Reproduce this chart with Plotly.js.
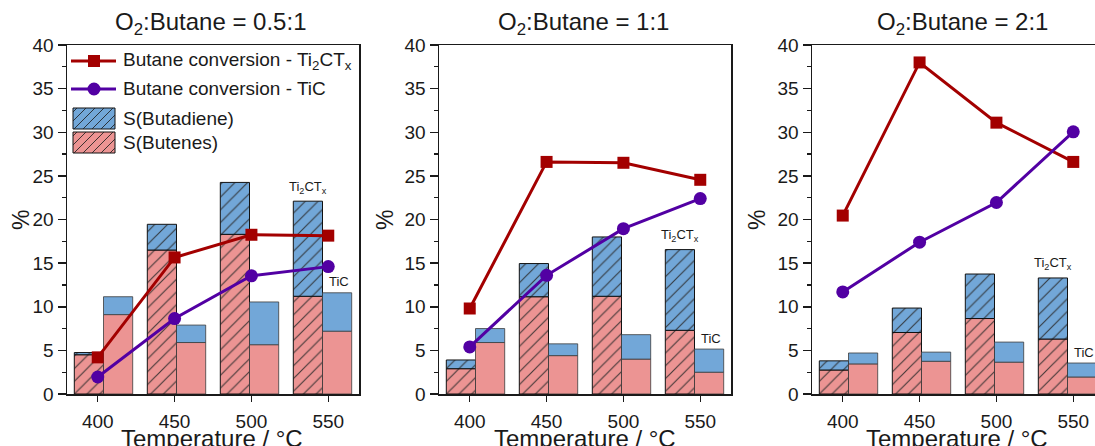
<!DOCTYPE html>
<html>
<head>
<meta charset="utf-8">
<script src="https://cdn.plot.ly/plotly-3.0.1.min.js"></script>
<style>html,body{margin:0;padding:0;background:#fff;}#chart{width:1095px;height:446px;}</style>
</head>
<body>
<div id="chart"></div>
<script>
// ---------------- DATA ----------------
const temps = [400, 450, 500, 550];
const tempLabels = ['400', '450', '500', '550'];
const panelTitles = ['O<sub>2</sub>:Butane = 0.5:1', 'O<sub>2</sub>:Butane = 1:1', 'O<sub>2</sub>:Butane = 2:1'];

// O2:Butane = 0.5:1
const butenesTi2CTx_05   = [4.5, 16.5, 18.3, 11.2];
const butadieneTi2CTx_05 = [0.25, 2.95, 5.95, 10.9];
const butenesTiC_05      = [9.1, 5.9, 5.65, 7.2];
const butadieneTiC_05    = [2.05, 2.0, 4.9, 4.4];
const convTi2CTx_05      = [4.2, 15.65, 18.25, 18.15];
const convTiC_05         = [1.95, 8.65, 13.55, 14.6];

// O2:Butane = 1:1
const butenesTi2CTx_1   = [2.9, 11.15, 11.2, 7.3];
const butadieneTi2CTx_1 = [1.0, 3.8, 6.8, 9.25];
const butenesTiC_1      = [5.9, 4.4, 4.0, 2.5];
const butadieneTiC_1    = [1.6, 1.35, 2.8, 2.65];
const convTi2CTx_1      = [9.8, 26.6, 26.5, 24.55];
const convTiC_1         = [5.4, 13.6, 18.95, 22.4];

// O2:Butane = 2:1
const butenesTi2CTx_2   = [2.75, 7.05, 8.65, 6.3];
const butadieneTi2CTx_2 = [1.05, 2.8, 5.1, 7.0];
const butenesTiC_2      = [3.45, 3.75, 3.65, 1.95];
const butadieneTiC_2    = [1.25, 1.05, 2.3, 1.6];
const convTi2CTx_2      = [20.45, 38.0, 31.1, 26.6];
const convTiC_2         = [11.7, 17.4, 21.95, 30.05];

const legendLabels = ['Butane conversion - Ti<sub>2</sub>CT<sub>x</sub>', 'Butane conversion - TiC', 'S(Butadiene)', 'S(Butenes)'];
const barLabels = ['Ti<sub>2</sub>CT<sub>x</sub>', 'TiC'];

// ---------------- STYLE / LAYOUT ----------------
const W = 1095, H = 446;
const FONT = 'Liberation Sans, Arial, Helvetica, sans-serif';
const RED = '#A30000', PURPLE = '#5200A3', BLUE = '#72A7D8', PINK = '#EC9493';
const AX = '#1a1a1a';
const px = x => x / W;
const py = y => 1 - y / H;

const panels = [
  {title: panelTitles[0], bt: butenesTi2CTx_05, bdt: butadieneTi2CTx_05, bc: butenesTiC_05, bdc: butadieneTiC_05, ct: convTi2CTx_05, cc: convTiC_05,
   left: 67, titleX: 210, xTitleX: 212, pctX: 21, mirrorY: true},
  {title: panelTitles[1], bt: butenesTi2CTx_1, bdt: butadieneTi2CTx_1, bc: butenesTiC_1, bdc: butadieneTiC_1, ct: convTi2CTx_1, cc: convTiC_1,
   left: 439, titleX: 583, xTitleX: 585, pctX: 385, mirrorY: true},
  {title: panelTitles[2], bt: butenesTi2CTx_2, bdt: butadieneTi2CTx_2, bc: butenesTiC_2, bdc: butadieneTiC_2, ct: convTi2CTx_2, cc: convTiC_2,
   left: 812, titleX: 962, xTitleX: 957, pctX: 757, mirrorY: false}
];
const PW = 292, TOP = 45, BOT = 394;

const data = [];
const layout = {
  width: W, height: H,
  margin: {l: 0, r: 0, t: 0, b: 0},
  paper_bgcolor: '#fff', plot_bgcolor: '#fff',
  showlegend: false,
  barmode: 'overlay',
  font: {family: FONT, color: AX},
  annotations: [], shapes: []
};

const hatch = {shape: '/', size: 9, solidity: 0.13, fgcolor: '#2a2a2a', fgopacity: 0.85, fillmode: 'replace'};

panels.forEach((p, i) => {
  const n = i + 1;
  const xb = n === 1 ? 'x' : 'x' + n;          // category axis for bars
  const xl = 'x' + (n + 3);                      // linear axis for lines (overlaying)
  const yy = n === 1 ? 'y' : 'y' + n;
  const right = Math.min(p.left + PW, W);
  const frac = (right - p.left) / PW;
  const dom = [px(p.left), px(right)];
  const ydom = [py(BOT), py(TOP)];

  const tiLine = {color: '#111', width: 1};
  const tcLine = {color: 'rgba(60,60,60,0.8)', width: 1};
  data.push({type: 'bar', x: tempLabels, y: p.bt, base: 0, offset: -0.4, width: 0.4, xaxis: xb, yaxis: yy,
    marker: {color: PINK, line: tiLine, pattern: Object.assign({}, hatch, {bgcolor: PINK})}, hoverinfo: 'skip'});
  data.push({type: 'bar', x: tempLabels, y: p.bdt, base: p.bt, offset: -0.4, width: 0.4, xaxis: xb, yaxis: yy,
    marker: {color: BLUE, line: tiLine, pattern: Object.assign({}, hatch, {bgcolor: BLUE})}, hoverinfo: 'skip'});
  data.push({type: 'bar', x: tempLabels, y: p.bc, base: 0, offset: 0, width: 0.4, xaxis: xb, yaxis: yy,
    marker: {color: PINK, line: tcLine}, hoverinfo: 'skip'});
  data.push({type: 'bar', x: tempLabels, y: p.bdc, base: p.bc, offset: 0, width: 0.4, xaxis: xb, yaxis: yy,
    marker: {color: BLUE, line: tcLine}, hoverinfo: 'skip'});

  data.push({type: 'scatter', mode: 'lines+markers', x: temps, y: p.ct, xaxis: xl, yaxis: yy, cliponaxis: false,
    line: {color: RED, width: 3}, marker: {symbol: 'square', size: 12, color: RED}});
  data.push({type: 'scatter', mode: 'lines+markers', x: temps, y: p.cc, xaxis: xl, yaxis: yy, cliponaxis: false,
    line: {color: PURPLE, width: 3}, marker: {symbol: 'circle', size: 13, color: PURPLE}});

  const kb = n === 1 ? 'xaxis' : 'xaxis' + n;
  layout[kb] = {
    type: 'category', domain: dom, anchor: yy, range: [-0.5, -0.5 + 4 * frac],
    showticklabels: false, ticks: '', showgrid: false, zeroline: false,
    showline: true, linecolor: AX, linewidth: 1.5, mirror: true, fixedrange: true
  };
  layout['xaxis' + (n + 3)] = {
    type: 'linear', overlaying: xb, domain: dom, anchor: yy, range: [380, 380 + 190 * frac],
    tickvals: temps, ticktext: tempLabels, ticks: 'outside', ticklen: 7, tickwidth: 1.5, tickcolor: AX,
    ticklabelstandoff: 3,
    tickfont: {size: 19, family: FONT, color: AX}, showgrid: false, zeroline: false, showline: false
  };
  const ky = n === 1 ? 'yaxis' : 'yaxis' + n;
  layout[ky] = {
    domain: ydom, anchor: xb, range: [0, 40], dtick: 5, tick0: 0,
    ticks: 'outside', ticklen: 8, tickwidth: 1.5, tickcolor: AX,
    minor: {dtick: 2.5, ticks: 'outside', ticklen: 4, tickwidth: 1.2, tickcolor: AX, showgrid: false},
    tickfont: {size: 19, family: FONT, color: AX},
    showgrid: false, zeroline: false, showline: true, linecolor: AX, linewidth: 1.5, mirror: p.mirrorY
  };

  layout.annotations.push({xref: 'paper', yref: 'paper', x: px(p.titleX), y: py(23), xanchor: 'center', yanchor: 'middle',
    text: p.title, showarrow: false, font: {size: 24, family: FONT, color: AX}});
  layout.annotations.push({xref: 'paper', yref: 'paper', x: px(p.xTitleX), y: py(423), xanchor: 'center', yanchor: 'top',
    text: 'Temperature / °C', showarrow: false, font: {size: 24, family: FONT, color: AX}});
  layout.annotations.push({xref: 'paper', yref: 'paper', x: px(p.pctX), y: py(220), xanchor: 'center', yanchor: 'middle',
    text: '%', textangle: -90, showarrow: false, font: {size: 23, family: FONT, color: AX}});

  const last = temps.length - 1;
  layout.annotations.push({xref: xb, yref: yy, x: last - 0.2, y: p.bt[last] + p.bdt[last], yshift: 14, xanchor: 'center', yanchor: 'middle',
    text: barLabels[0], showarrow: false, font: {size: 13, family: FONT, color: AX}});
  layout.annotations.push({xref: xb, yref: yy, x: last + 0.2, y: p.bc[last] + p.bdc[last], xshift: 2, yshift: 11, xanchor: 'center', yanchor: 'middle',
    text: barLabels[1], showarrow: false, font: {size: 13, family: FONT, color: AX}});
});

// ---------------- CUSTOM LEGEND (panel 1) ----------------
function addLine(y, color) {
  layout.shapes.push({type: 'line', xref: 'paper', yref: 'paper', x0: px(71), x1: px(116), y0: py(y), y1: py(y), line: {color: color, width: 3}});
}
addLine(61, RED);
layout.shapes.push({type: 'rect', xref: 'paper', yref: 'paper', x0: px(88), x1: px(100), y0: py(67), y1: py(55), fillcolor: RED, line: {width: 0}});
addLine(89, PURPLE);
layout.shapes.push({type: 'circle', xref: 'paper', yref: 'paper', x0: px(87.5), x1: px(100.5), y0: py(95.5), y1: py(82.5), fillcolor: PURPLE, line: {width: 0}});

function swatch(x0, y0, x1, y1, fill) {
  layout.shapes.push({type: 'rect', xref: 'paper', yref: 'paper', x0: px(x0), x1: px(x1), y0: py(y1), y1: py(y0), fillcolor: fill, line: {color: '#111', width: 1}});
  const sp = 9;
  for (let c = x0 + y0 + 4; c < x1 + y1; c += sp) {
    const xa = Math.max(x0, c - y1), xb = Math.min(x1, c - y0);
    if (xb - xa > 0.5) {
      layout.shapes.push({type: 'line', xref: 'paper', yref: 'paper', x0: px(xa), y0: py(c - xa), x1: px(xb), y1: py(c - xb),
        line: {color: 'rgba(30,30,30,0.85)', width: 1}});
    }
  }
}
swatch(73, 108, 115, 129, BLUE);
swatch(73, 132, 115, 153, PINK);

const legY = [61, 88, 118, 142];
legendLabels.forEach((t, k) => {
  layout.annotations.push({xref: 'paper', yref: 'paper', x: px(121), y: py(legY[k]), xanchor: 'left', yanchor: 'middle',
    text: t, showarrow: false, font: {size: 19, family: FONT, color: AX}});
});

Plotly.newPlot('chart', data, layout, {staticPlot: true, displayModeBar: false});
</script>
</body>
</html>
